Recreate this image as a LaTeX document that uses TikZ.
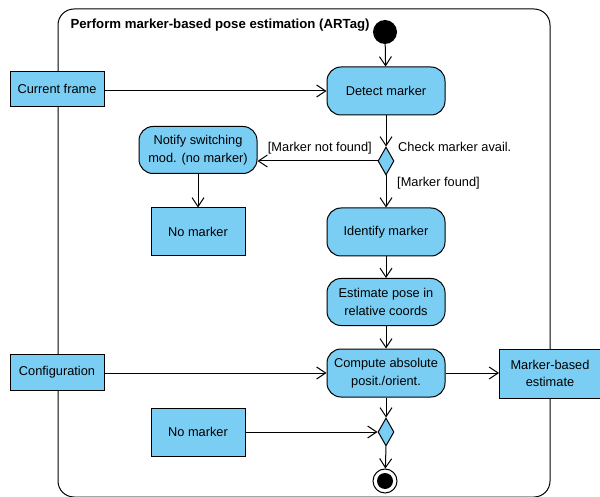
\documentclass[tikz,border=0pt]{standalone}
\usepackage{fontspec}
\setmainfont{Liberation Sans}
\usetikzlibrary{arrows.meta,shapes.geometric}
\definecolor{actblue}{RGB}{122,206,244}
\begin{document}
\begin{tikzpicture}[x=1pt,y=-1pt,
  every node/.style={font=\fontsize{12.8}{17.7}\selectfont},
  flow/.style={draw=black,line width=1pt,-{Straight Barb[length=9pt,width=12pt,line width=1pt]}},
  action/.style={draw=black,line width=1pt,fill=actblue,rounded corners=14pt,minimum width=118pt,minimum height=48pt,align=center,inner sep=2pt},
  objbox/.style={draw=black,line width=1pt,fill=actblue,minimum width=94pt,minimum height=48pt,align=center,inner sep=2pt},
  decision/.style={draw=black,line width=1pt,fill=actblue,shape=diamond,minimum width=16pt,minimum height=28pt,inner sep=0pt,shape aspect=0.57},
  guard/.style={inner sep=1pt}
]
\useasboundingbox (0,0) rectangle (600,497);
% frame
\draw[line width=1pt,rounded corners=16pt] (58,9) rectangle (550,497);
\node[anchor=west,font=\fontsize{13.2}{16}\selectfont\bfseries] (title) at (67,25) {Perform marker-based pose estimation (ARTag)};

\node[circle,fill=black,minimum size=24pt,inner sep=0pt] (init) at (385,32) {};
\node[action] (detect) at (386,91) {Detect marker};
\node[objbox,minimum height=35pt] (cur) at (57,89) {Current frame};
\node[decision] (dec1) at (386,161) {};
\node[action,minimum height=47pt] (notify) at (198,150) {Notify switching\\mod. (no marker)};
\node[objbox] (nom1) at (198,232) {No marker};
\node[action] (ident) at (386,232) {Identify marker};
\node[action,minimum height=47pt] (est) at (386,302) {Estimate pose in\\relative coords};
\node[objbox,minimum height=36pt] (conf) at (57,372) {Configuration};
\node[action] (comp) at (386,373) {Compute absolute\\posit./orient.};
\node[objbox,minimum width=101pt,minimum height=49pt] (mbe) at (550,373.5) {Marker-based\\estimate};
\node[decision] (dec2) at (386,432) {};
\node[objbox] (nom2) at (198,432) {No marker};
\node[circle,draw=black,line width=1pt,fill=white,minimum size=24pt,inner sep=0pt] (final) at (385,481) {};
\node[circle,fill=black,minimum size=16pt,inner sep=0pt] at (final) {};

\draw[flow] (init) -- (detect);
\draw[flow] (cur.east |- detect.west) -- (detect.west);
\draw[flow] (detect) -- (dec1.north);
\draw[flow] (dec1.west) -- (notify.east |- dec1.west);
\node[guard,anchor=east] (g1) at (373,148) {[Marker not found]};
\node[guard,anchor=west] (g2) at (397,147) {Check marker avail.};
\draw[flow] (dec1.south) -- (ident);
\node[guard,anchor=west] (g3) at (396,183) {[Marker found]};
\draw[flow] (notify) -- (nom1);
\draw[flow] (ident) -- (est);
\draw[flow] (est) -- (comp);
\draw[flow] (conf.east |- comp.west) -- (comp.west);
\draw[flow] (comp.east) -- (mbe.west |- comp.east);
\draw[flow] (comp) -- (dec2.north);
\draw[flow] (nom2.east) -- (dec2.west);
\draw[flow] (dec2.south) -- (final);
\end{tikzpicture}
\end{document}
